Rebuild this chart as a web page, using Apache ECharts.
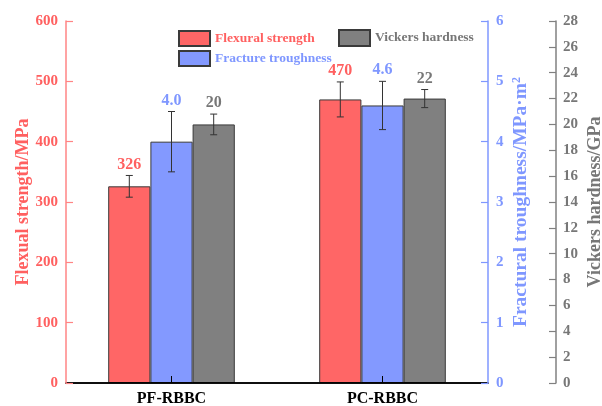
<!DOCTYPE html>
<html>
<head>
<meta charset="utf-8">
<script src="https://cdn.jsdelivr.net/npm/echarts@6/dist/echarts.min.js"></script>
<style>
  html, body { margin: 0; padding: 0; background: #fff; }
  #chart { width: 602px; height: 406px; }
</style>
</head>
<body>
<div id="chart"></div>
<script>
// Sample groups
const categories = ['PF-RBBC', 'PC-RBBC'];

// Flexural strength (MPa) with standard deviation
const flexural = [326, 470];
const flexuralErr = [18, 29];

// Fracture toughness (MPa·m^1/2) with standard deviation
const toughness = [4.0, 4.6];
const toughnessErr = [0.5, 0.4];

// Vickers hardness (GPa) with standard deviation
const hardness = [20, 22];
const hardnessErr = [0.8, 0.7];

// Axis ranges: [min, max, interval]
const flexuralAxis = [0, 600, 100];
const toughnessAxis = [0, 6, 1];
const hardnessAxis = [0, 28, 2];

const RED = '#FF6666', BLUE = '#8399FF', GRAY = '#808080';
const RED_TXT = '#FF6060', BLUE_TXT = '#7F97FF', GRAY_TXT = '#777777';
const FONT = '"Liberation Serif", "Times New Roman", serif';

const chart = echarts.init(document.getElementById('chart'));

// Error bar + value label drawn at bar position `slot` (0,1,2) inside each category
function errorRenderer(slot, color, decimals) {
  return function (params, api) {
    const ci = api.value(0), v = api.value(1), e = api.value(2);
    const band = api.size([1, 0])[0];
    const bw = band * 0.6 / 3;
    const cx = api.coord([ci, v])[0] + (slot - 1) * bw;
    const yTop = api.coord([ci, v + e])[1];
    const yBot = api.coord([ci, v - e])[1];
    const stroke = { stroke: '#333', lineWidth: 1 };
    return {
      type: 'group',
      children: [
        { type: 'line', shape: { x1: cx, y1: yTop, x2: cx, y2: yBot }, style: stroke },
        { type: 'line', shape: { x1: cx - 3.5, y1: yTop, x2: cx + 3.5, y2: yTop }, style: stroke },
        { type: 'line', shape: { x1: cx - 3.5, y1: yBot, x2: cx + 3.5, y2: yBot }, style: stroke },
        {
          type: 'text',
          style: {
            text: v.toFixed(decimals), x: cx, y: yTop - 3,
            align: 'center', verticalAlign: 'bottom',
            fill: color, font: 'bold 16px ' + FONT
          }
        }
      ]
    };
  };
}

function valueAxis(range, color, lineColor, name, extra) {
  return Object.assign({
    type: 'value',
    min: range[0], max: range[1], interval: range[2],
    name: name,
    nameLocation: 'middle',
    nameRotate: 90,
    nameMoveOverlap: false,
    nameTextStyle: { color: color, fontFamily: FONT, fontWeight: 'bold', fontSize: 18 },
    axisLine: { show: true, lineStyle: { color: lineColor, width: 1.5 } },
    axisTick: { show: true, inside: true, length: 7, lineStyle: { color: lineColor, width: 1.2 } },
    axisLabel: { color: color, fontFamily: FONT, fontWeight: 'bold', fontSize: 15 },
    splitLine: { show: false },
    z: 4
  }, extra);
}

function barSeries(name, data, color, axisIndex) {
  return {
    name: name, type: 'bar', yAxisIndex: axisIndex, data: data,
    barCategoryGap: '40%', barGap: '0%',
    itemStyle: { color: color, borderColor: '#3a3a3a', borderWidth: 1 },
    z: 2
  };
}

function errSeries(values, errs, slot, color, decimals, axisIndex) {
  return {
    type: 'custom', yAxisIndex: axisIndex, z: 5,
    renderItem: errorRenderer(slot, color, decimals),
    data: values.map((v, i) => [i, v, errs[i]]),
    silent: true
  };
}

const legendText = { fontFamily: FONT, fontWeight: 'bold', fontSize: 13.5 };

const option = {
  animation: false,
  backgroundColor: '#fff',
  textStyle: { fontFamily: FONT },
  grid: { left: 66, right: 114, top: 21, bottom: 23, containLabel: false, outerBoundsMode: 'none' },
  legend: [
    {
      left: 178, top: 30, orient: 'vertical', itemGap: 3, padding: 0,
      itemWidth: 31, itemHeight: 15, icon: 'rect',
      textStyle: legendText,
      data: [
        { name: 'Flexural strength', textStyle: { color: RED_TXT } },
        { name: 'Fracture troughness', textStyle: { color: BLUE_TXT } }
      ]
    },
    {
      left: 338, top: 29, orient: 'vertical', padding: 0,
      itemWidth: 31, itemHeight: 16, icon: 'rect',
      textStyle: legendText,
      data: [{ name: 'Vickers hardness', textStyle: { color: GRAY_TXT } }]
    }
  ],
  xAxis: [
    {
      type: 'category', data: categories, position: 'bottom',
      axisLine: { lineStyle: { color: '#000', width: 1.5 } },
      axisTick: { show: true, inside: true, alignWithLabel: true, length: 7, lineStyle: { color: '#000' } },
      axisLabel: { color: '#000', fontFamily: FONT, fontWeight: 'bold', fontSize: 16, margin: 8 },
      z: 3
    },
    {
      type: 'category', data: categories, position: 'top',
      axisLine: { lineStyle: { color: '#000', width: 1.5 } },
      axisTick: { show: false }, axisLabel: { show: false },
      z: 3
    }
  ],
  yAxis: [
    valueAxis(flexuralAxis, RED_TXT, '#FF8585', 'Flexual strength/MPa',
      { position: 'left', nameGap: 34 }),
    valueAxis(toughnessAxis, BLUE_TXT, '#7F97FF', 'Fractural troughness/MPa·m{sup|2}',
      {
        position: 'right', nameGap: 23,
        nameTextStyle: {
          color: BLUE_TXT, fontFamily: FONT, fontWeight: 'bold', fontSize: 19.5,
          rich: { sup: { color: BLUE_TXT, fontFamily: FONT, fontWeight: 'bold', fontSize: 12, padding: [0, 0, 8, 0] } }
        }
      }),
    valueAxis(hardnessAxis, GRAY_TXT, '#808080', 'Vickers hardness/GPa',
      { position: 'right', offset: 68, nameGap: 30, axisLabel: { color: GRAY_TXT, fontFamily: FONT, fontWeight: 'bold', fontSize: 15, margin: 7 } })
  ],
  series: [
    barSeries('Flexural strength', flexural, RED, 0),
    barSeries('Fracture troughness', toughness, BLUE, 1),
    barSeries('Vickers hardness', hardness, GRAY, 2),
    errSeries(flexural, flexuralErr, 0, RED_TXT, 0, 0),
    errSeries(toughness, toughnessErr, 1, BLUE_TXT, 1, 1),
    errSeries(hardness, hardnessErr, 2, GRAY_TXT, 0, 2)
  ]
};

chart.setOption(option);
</script>
</body>
</html>
